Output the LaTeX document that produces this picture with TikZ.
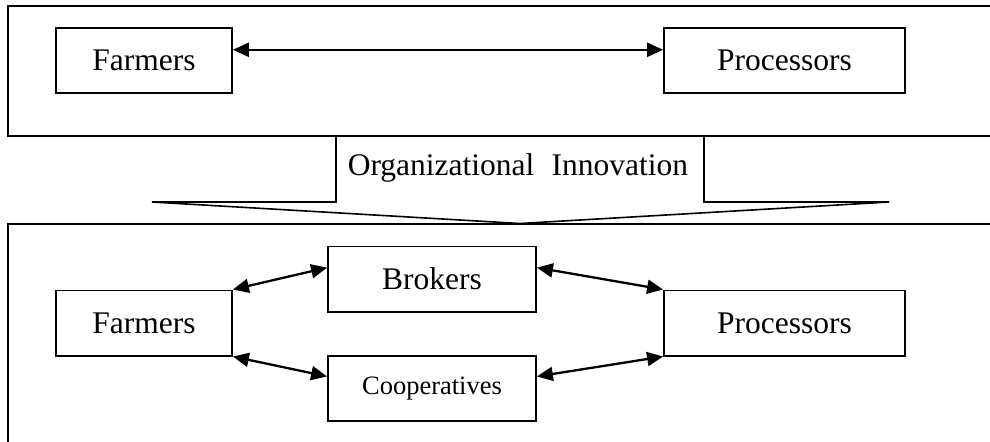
\documentclass[tikz,border=0pt]{standalone}
\usepackage{fontspec}
\setmainfont{Liberation Serif}
\usetikzlibrary{calc,arrows.meta}
\begin{document}
\begin{tikzpicture}[x=0.5pt,y=-0.5pt,
  box/.style={draw,line width=0.9pt,inner sep=0pt,minimum height=32.6pt,font=\fontsize{15.75}{18}\selectfont},
  smallbox/.style={box,font=\fontsize{13.25}{15}\selectfont},
  frame/.style={draw,line width=1pt},
  link/.style={line width=1.15pt,{Triangle[length=8pt,width=7pt]}-{Triangle[length=8pt,width=7pt]}}]
\useasboundingbox (0,0) rectangle (990,441);
\clip (0,0) rectangle (990,441);
% frames
\draw[frame] (8,5.5) rectangle (1000,136);
\draw[frame] (8,224) rectangle (1000,460);
% top row
\node[box,minimum width=88pt] (f1) at (144,60.5) {Farmers};
\node[box,minimum width=120.5pt] (p1) at (784.5,60.5) {Processors};
\draw[link] ($(f1.north east)!0.34!(f1.south east)$) -- ($(p1.north west)!0.34!(p1.south west)$);
% block arrow
\draw[line width=0.8pt,line join=miter] (336,136) -- (336,202) -- (152,202) -- (520,223.5) -- (889,202) -- (704,202) -- (704,136);
\node[font=\fontsize{15.75}{18}\selectfont] (oi) at (518,168) {Organizational\hspace{0.55em}Innovation};
% bottom row
\node[box,minimum width=88pt] (f2) at (144,323) {Farmers};
\node[box,minimum width=104pt] (b) at (432,279) {Brokers};
\node[smallbox,minimum width=104pt] (c) at (432,388.5) {Cooperatives};
\node[box,minimum width=120.5pt] (p2) at (784.5,323) {Processors};
\draw[link] (f2.north east) -- ($(b.north west)!0.33!(b.south west)$);
\draw[link] (f2.south east) -- ($(c.north west)!0.32!(c.south west)$);
\draw[link] ($(b.north east)!0.33!(b.south east)$) -- (p2.north west);
\draw[link] ($(c.north east)!0.32!(c.south east)$) -- (p2.south west);
\end{tikzpicture}
\end{document}
